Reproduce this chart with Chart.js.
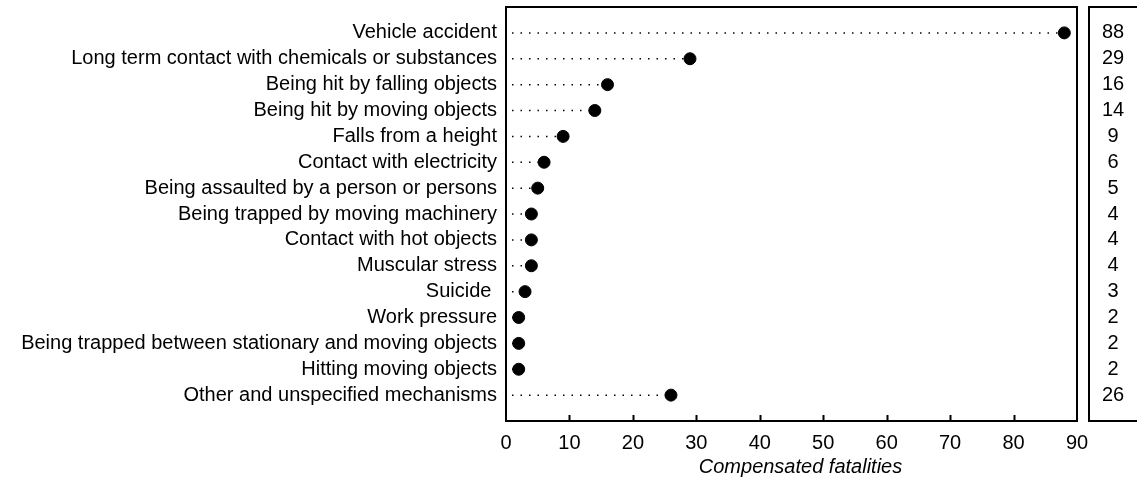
<!DOCTYPE html>
<html>
<head>
<meta charset="utf-8">
<script src="https://cdn.jsdelivr.net/npm/chart.js@4/dist/chart.umd.min.js"></script>
<style>
  html, body { margin: 0; padding: 0; background: #fff; }
  #wrap { width: 1137px; height: 479px; }
</style>
</head>
<body>
<div id="wrap"><canvas id="fatal_canvas"></canvas></div>
<script>
const categories = [
    'Vehicle accident',
    'Long term contact with chemicals or substances',
    'Being hit by falling objects',
    'Being hit by moving objects',
    'Falls from a height',
    'Contact with electricity',
    'Being assaulted by a person or persons',
    'Being trapped by moving machinery',
    'Contact with hot objects',
    'Muscular stress',
    'Suicide ',
    'Work pressure',
    'Being trapped between stationary and moving objects',
    'Hitting moving objects',
    'Other and unspecified mechanisms'
];
const fatalities = [88, 29, 16, 14, 9, 6, 5, 4, 4, 4, 3, 2, 2, 2, 26];
const xTicks = [0, 10, 20, 30, 40, 50, 60, 70, 80, 90];
const xTitle = 'Compensated fatalities';

const FONT = 'Arial, "Liberation Sans", sans-serif';

// one dotted stem per row, from 0 to the value
const stems = fatalities.map((v, i) => ({
    type: 'line',
    data: [{x: 0, y: i + 1}, {x: v, y: i + 1}],
    borderColor: '#000',
    borderWidth: 1.5,
    borderDash: [1.5, 7],
    borderDashOffset: 2.5,
    pointRadius: 0,
    fill: false
}));

const framePlugin = {
    id: 'frame',
    afterDraw(chart) {
        const ctx = chart.ctx;
        const a = chart.chartArea;
        const xs = chart.scales.x;
        const ys = chart.scales.y;
        ctx.save();
        ctx.strokeStyle = '#000';
        ctx.lineWidth = 2;
        ctx.strokeRect(a.left, a.top, a.right - a.left, a.bottom - a.top);
        // inward ticks
        ctx.beginPath();
        xTicks.slice(1, -1).forEach(t => {
            const px = Math.round(xs.getPixelForValue(t)) + 0.5;
            ctx.moveTo(px, a.bottom);
            ctx.lineTo(px, a.bottom - 6);
        });
        ctx.stroke();
        // value box
        const bx = a.right + 12;
        ctx.beginPath();
        ctx.moveTo(chart.width + 5, a.top);
        ctx.lineTo(bx, a.top);
        ctx.lineTo(bx, a.bottom);
        ctx.lineTo(chart.width + 5, a.bottom);
        ctx.stroke();
        ctx.fillStyle = '#000';
        ctx.font = '20px ' + FONT;
        ctx.textAlign = 'center';
        ctx.textBaseline = 'middle';
        fatalities.forEach((v, i) => {
            ctx.fillText(String(v), bx + 24, ys.getPixelForValue(i + 1));
        });
        // axis title
        ctx.font = 'italic 20px ' + FONT;
        ctx.fillText(xTitle, (a.left + a.right) / 2 + 9, 467);
        ctx.restore();
    }
};

new Chart(document.getElementById('fatal_canvas'), {
    type: 'scatter',
    data: {
        datasets: [...stems, {
            type: 'scatter',
            data: fatalities.map((v, i) => ({x: v, y: i + 1})),
            backgroundColor: '#000',
            borderColor: '#000',
            pointRadius: 6,
            pointHoverRadius: 6
        }]
    },
    options: {
        responsive: true,
        maintainAspectRatio: false,
        animation: false,
        layout: { padding: { top: 6, right: 60, left: 0, bottom: 0 } },
        plugins: { legend: { display: false }, tooltip: { enabled: false } },
        scales: {
            x: {
                type: 'linear',
                min: 0,
                max: 90,
                afterBuildTicks: s => { s.ticks = xTicks.map(v => ({value: v})); },
                afterFit: s => { s.height = 58; s.paddingLeft = 0; s.paddingRight = 0; },
                grid: { display: false, drawTicks: false },
                border: { display: true, color: '#000', width: 2 },
                ticks: { color: '#000', font: { size: 20, family: FONT }, padding: 10, maxRotation: 0 }
            },
            y: {
                type: 'linear',
                min: 0,
                max: 16,
                reverse: true,
                afterBuildTicks: s => { s.ticks = categories.map((c, i) => ({value: i + 1})); },
                afterFit: s => { s.width = 506; s.paddingTop = 0; s.paddingBottom = 0; },
                grid: { display: false, drawTicks: false },
                border: { display: true, color: '#000', width: 2 },
                ticks: {
                    color: '#000',
                    autoSkip: false,
                    padding: 9,
                    font: { size: 20, family: FONT },
                    callback: v => categories[v - 1] ?? ''
                }
            }
        }
    },
    plugins: [framePlugin]
});
</script>
</body>
</html>
